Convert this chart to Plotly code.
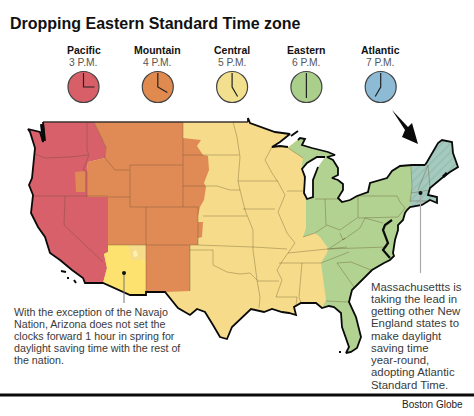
import math
import plotly.graph_objects as go

# Map geometry (x, y in image pixels)
north_edge = [(43, 122), (248, 122), (248, 118), (250, 123), (262, 127), (275, 132), (290, 134),
              (280, 142), (272, 147), (280, 146), (288, 147)]
lakes_shore = [(298, 140), (300, 138), (305, 139), (302, 145), (312, 148), (328, 152), (335, 155), (327, 157),
               (333, 160), (338, 168), (338, 175), (332, 178), (338, 180), (343, 184), (343, 190), (338, 198),
               (342, 202), (350, 200), (357, 196), (368, 192), (370, 183), (387, 178), (392, 171), (400, 166),
               (412, 165)]
new_england_shore = [(425, 165), (427, 162), (438, 143), (442, 140), (452, 142), (453, 153), (458, 167), (450, 172),
                     (442, 178), (430, 188), (428, 195), (437, 197), (437, 203), (430, 200), (422, 205), (410, 207)]
atlantic_shore = [(407, 210), (405, 213), (403, 220), (398, 225), (398, 230), (395, 240), (393, 253), (394, 256),
                  (390, 260), (384, 263), (372, 270), (362, 280), (352, 290), (349, 302), (356, 317), (361, 337),
                  (357, 348), (351, 352), (346, 353), (349, 347), (342, 327), (341, 313), (334, 307), (329, 306),
                  (322, 308)]
gulf_shore = [(316, 303), (301, 303), (294, 307), (296, 315), (289, 313), (282, 312), (272, 309), (264, 312),
              (251, 309), (242, 318), (234, 325), (232, 327), (227, 339), (220, 337), (213, 325), (205, 312),
              (197, 309), (190, 315), (178, 308), (165, 292), (146, 292), (146, 295), (130, 295), (103, 283)]
pacific_shore = [(85, 283), (83, 278), (72, 270), (60, 260), (50, 253), (45, 237), (38, 227), (31, 213), (33, 195),
                 (29, 185), (32, 178), (35, 154), (35, 148), (30, 132), (28, 129), (40, 132), (43, 142), (44, 135),
                 (43, 122)]
lake_michigan = [(325, 157), (317, 157), (307, 163), (302, 169), (305, 177), (304, 193), (307, 199), (313, 197),
                 (313, 180), (318, 167)]
islands = [[(61, 271), (66, 272)], [(67, 278), (69, 278)], [(74, 280), (76, 283)], [(339, 352), (341, 352)],
           [(291, 136), (298, 131)]]
chesapeake = [(392, 220), (385, 225), (383, 230), (388, 243), (383, 250), (390, 258)]
puget = [(42, 124), (43, 132), (44, 141)]
penobscot = [(443, 177), (447, 173)]

pacific_zone = [(43, 122), (94, 122), (106, 147), (105, 158), (88, 162), (87, 170), (87, 197), (108, 197),
                (108, 252), (104, 254), (107, 268), (103, 283)] + pacific_shore
mountain_zone = [(94, 122), (183, 122), (183, 138), (201, 140), (197, 146), (203, 155), (208, 156), (209, 170),
                 (204, 183), (206, 187), (204, 200), (200, 207), (198, 216), (198, 222), (203, 222), (202, 237),
                 (198, 238), (198, 245), (190, 245), (190, 291), (165, 292), (146, 292), (146, 245), (108, 245),
                 (108, 197), (87, 197), (87, 170), (88, 162), (105, 158), (106, 147)]
oregon_malheur = [(75, 172), (85, 171), (85, 192), (76, 192)]
arizona = [(108, 245), (128, 245), (130, 252), (131, 260), (146, 260), (146, 295), (130, 295), (103, 283), (107, 268),
           (104, 254), (108, 252)]
hopi = [(133, 252), (136, 250), (138, 256), (134, 257)]
eastern_zone = [(288, 148)] + lakes_shore + new_england_shore + atlantic_shore + \
               [(326, 300), (321, 263), (327, 253), (328, 248), (320, 237), (315, 233), (303, 237), (306, 228),
                (306, 200), (302, 165), (303, 158)]
atlantic_zone = [(412, 165)] + new_england_shore + [(412, 187)]

state_lines = [
    [(35, 154), (45, 158), (70, 157), (88, 155)],
    [(87, 122), (87, 150), (89, 155), (83, 170), (87, 172), (87, 197)],
    [(94, 122), (106, 147), (105, 158), (115, 170), (129, 170)],
    [(130, 165), (183, 165)], [(130, 165), (130, 207), (198, 207)], [(183, 122), (183, 207)],
    [(183, 186), (205, 186), (217, 186), (230, 190), (240, 190)], [(146, 207), (146, 295)], [(108, 197), (130, 197)],
    [(33, 196), (108, 196)], [(65, 196), (64, 225), (103, 262)], [(108, 245), (198, 245), (253, 247), (287, 249)],
    [(190, 245), (190, 291)], [(198, 207), (198, 245)], [(183, 155), (239, 155)],
    [(233, 122), (237, 137), (240, 157), (238, 181), (240, 190), (245, 210), (253, 230), (253, 250), (254, 257),
     (257, 280), (260, 297), (259, 308)],
    [(272, 147), (265, 160), (272, 173), (278, 182), (285, 195), (278, 212), (287, 233), (295, 243), (288, 253),
     (283, 260), (277, 270), (282, 280), (276, 297), (297, 297), (296, 305)],
    [(238, 181), (278, 181)], [(243, 209), (275, 209)], [(203, 216), (247, 216)], [(287, 191), (303, 191)],
    [(190, 250), (213, 250), (213, 265), (227, 272), (240, 274), (250, 273), (257, 280)], [(257, 281), (279, 281)],
    [(279, 263), (321, 263)], [(288, 253), (347, 247)], [(302, 263), (299, 297), (301, 303)], [(326, 301), (349, 302)],
    [(337, 263), (354, 287)], [(337, 263), (351, 262), (371, 270)], [(321, 263), (349, 252)],
    [(325, 199), (326, 225)], [(303, 237), (315, 233), (327, 225), (340, 230), (357, 218)], [(358, 196), (358, 218)],
    [(315, 199), (338, 199)], [(343, 240), (345, 238), (330, 248)], [(340, 233), (343, 240), (360, 228), (365, 218),
                                                                     (383, 223)],
    [(358, 218), (398, 217)], [(358, 196), (397, 196), (400, 202), (405, 208), (398, 217)], [(327, 249), (387, 247)],
    [(303, 158), (288, 148)], [(411, 166), (412, 187), (410, 202)], [(428, 165), (418, 190)], [(428, 165), (430, 188)],
    [(411, 193), (430, 190)], [(410, 201), (427, 201)],
]
arrow = [(392, 110), (408, 127), (412, 123), (418, 144), (402, 137), (405, 130)]

zone_names = ["Pacific", "Mountain", "Central", "Eastern", "Atlantic"]
zone_hours = [3, 4, 5, 6, 7]
zone_times = ["3 P.M.", "4 P.M.", "5 P.M.", "6 P.M.", "7 P.M."]
clock_colors = ["#d85f68", "#e08a50", "#f2e08e", "#a9cf8b", "#8dbad5"]

arizona_note = ["With the exception of the Navajo", "Nation, Arizona does not set the",
                "clocks forward 1 hour in spring for", "daylight saving time with the rest of", "the nation."]
mass_note = ["Massachusettts is", "taking the lead in", "getting other New", "England states to", "make daylight",
             "saving time", "year-round,", "adopting Atlantic", "Standard Time."]

TEXT_FONT = "Liberation Sans"


def poly(fig, pts, fill, line=None, width=0, pattern=None):
    xs = [p[0] for p in pts]
    ys = [p[1] for p in pts]
    fig.add_trace(go.Scatter(x=xs, y=ys, mode="lines", fill="toself" if fill else None, fillcolor=fill,
                             fillpattern=pattern, line=dict(color=line or "rgba(0,0,0,0)", width=width),
                             hoverinfo="skip", showlegend=False))


def label(fig, x, y, text, size=10.5, color="#3a3a3a", anchor="left", bold=False, font=TEXT_FONT):
    fig.add_annotation(x=x, y=y, text=f"<b>{text}</b>" if bold else text, showarrow=False, xanchor=anchor,
                       yanchor="middle", font=dict(family=font, size=size, color=color))


fig = go.Figure()

# zones, central first since it is whatever is left over
us_outline = north_edge + lakes_shore + new_england_shore + atlantic_shore + gulf_shore + pacific_shore
poly(fig, us_outline, "#f6dc8a")
poly(fig, pacific_zone, "#d7606a")
poly(fig, mountain_zone, "#e08a56")
poly(fig, oregon_malheur, "#e08a56")
poly(fig, arizona, "#fde26f")
poly(fig, hopi, "#fdf3b0")
poly(fig, eastern_zone, "#b2d291")
poly(fig, atlantic_zone, "#a5c9bd", pattern=dict(shape="/", fgcolor="#7fafa9", bgcolor="#a5c9bd", size=6, solidity=0.2))

for seg in state_lines:
    poly(fig, seg, None, line="rgba(95,75,40,0.5)", width=0.7)

# coast and lakes on top
poly(fig, lake_michigan, "white", line="#0a0a0a", width=1.8)
poly(fig, north_edge[1:], None, line="#0a0a0a", width=1.8)
poly(fig, [north_edge[0], north_edge[1]], None, line="#3a3330", width=1.5)
poly(fig, lakes_shore + new_england_shore[:1], None, line="#0a0a0a", width=1.8)
poly(fig, new_england_shore + atlantic_shore + gulf_shore + pacific_shore, None, line="#0a0a0a", width=1.8)
poly(fig, chesapeake, None, line="#0a0a0a", width=2.2)
poly(fig, puget, None, line="#0a0a0a", width=4)
poly(fig, penobscot, None, line="#0a0a0a", width=3)
for isle in islands:
    poly(fig, isle, None, line="#0a0a0a", width=2)

# callouts
poly(fig, [(124, 273), (124, 303)], None, line="#777777", width=1)
poly(fig, [(420.5, 193), (420.5, 273)], None, line="#aaaaaa", width=1.2)
fig.add_trace(go.Scatter(x=[124, 420.5], y=[273, 193], mode="markers", marker=dict(color="#111111", size=4),
                         hoverinfo="skip", showlegend=False))
poly(fig, arrow, "#0a0a0a")

# clocks
for i, name in enumerate(zone_names):
    cx = 83.5 + i * 74.3
    cy = 87
    label(fig, cx, 50, name, size=10.5, color="#111111", anchor="center", bold=True)
    label(fig, cx - 0.5, 62.5, zone_times[i], size=10.3, color="#555555", anchor="center")
    fig.add_trace(go.Scatter(x=[cx], y=[cy], mode="markers", hoverinfo="skip", showlegend=False,
                             marker=dict(size=31, color=clock_colors[i], line=dict(color="#444444", width=1.2))))
    angle = math.radians(zone_hours[i] * 30)
    hour_xy = (cx + 11 * math.sin(angle), cy - 11 * math.cos(angle))
    poly(fig, [(cx, cy - 14), (cx, cy), hour_xy], None, line="#222222", width=1.2)

label(fig, 7.5, 23.5, "Dropping Eastern Standard Time zone", size=16, color="#111111", bold=True)

for i, line in enumerate(arizona_note):
    label(fig, 12, 311.5 + i * 12.2, line, size=10.7)
for i, line in enumerate(mass_note):
    label(fig, 369, 286.5 + i * 12.25, line, size=11.4)
label(fig, 465, 404.5, "Boston Globe", size=10, color="#222222", anchor="right")

# bottom rule
poly(fig, [(0, 395), (474, 395)], None, line="#0a0a0a", width=3)

fig.update_xaxes(range=[0, 474], visible=False, fixedrange=True)
fig.update_yaxes(range=[416, 0], visible=False, fixedrange=True)
fig.update_layout(width=474, height=416, margin=dict(l=0, r=0, t=0, b=0), paper_bgcolor="white",
                  plot_bgcolor="white", showlegend=False)

fig.write_html("out.html", post_script="document.body.style.margin='0';", config={"displayModeBar": False})
